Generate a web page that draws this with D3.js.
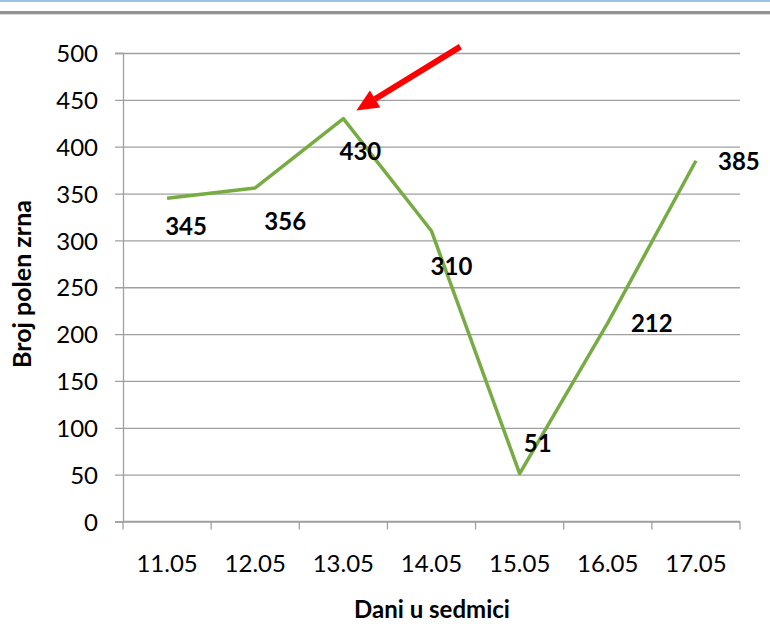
<!DOCTYPE html>
<html>
<head>
<meta charset="utf-8">
<script src="https://cdn.jsdelivr.net/npm/d3@7"></script>
<style>
  html, body { margin: 0; padding: 0; background: #fff; }
  svg { display: block; }
</style>
</head>
<body>
<div id="chart"></div>
<script>
var days = ["11.05", "12.05", "13.05", "14.05", "15.05", "16.05", "17.05"];
var counts = [345, 356, 430, 310, 51, 212, 385];
var yTicks = [0, 50, 100, 150, 200, 250, 300, 350, 400, 450, 500];
// label offsets from each point (dx, dy to baseline), as Excel left them
var labelDx = [19, 30, 17, 20, 18, 44, 43];
var labelDy = [37, 42, 41, 44, -22, 9, 9];

var width = 770, height = 639;
var plotLeft = 123, plotRight = 740, plotTop = 53, plotBottom = 521.5;
var font = "Lato, 'Open Sans', sans-serif";

var svg = d3.select("#chart").append("svg")
    .attr("width", width).attr("height", height);

// page decoration at top
svg.append("rect").attr("x", 0).attr("y", 0).attr("width", width).attr("height", 2).attr("fill", "#9dc3e6");
svg.append("rect").attr("x", 0).attr("y", 11).attr("width", width).attr("height", 3).attr("fill", "#939393");
svg.append("rect").attr("x", 0).attr("y", 14).attr("width", width).attr("height", 1).attr("fill", "#d9d9d9");

var x = d3.scaleBand().domain(days).range([plotLeft, plotRight]);
var y = d3.scaleLinear().domain([0, 500]).range([plotBottom, plotTop]);

// gridlines + y axis
var yAxis = svg.append("g")
    .attr("transform", "translate(" + plotLeft + ",0)")
    .call(d3.axisLeft(y).tickValues(yTicks).tickSize(8).tickPadding(17));
yAxis.select(".domain").attr("stroke", "#a0a0a0").attr("stroke-width", 1.3);
yAxis.selectAll(".tick line").attr("stroke", "#a0a0a0").attr("stroke-width", 1.3)
    .attr("x2", plotRight - plotLeft).attr("x1", -8);
yAxis.selectAll(".tick text").attr("font-family", font).attr("font-size", 24)
    .attr("fill", "#000").attr("dy", "0.36em").attr("x", -25);

// x axis
var xAxis = svg.append("g")
    .attr("transform", "translate(0," + plotBottom + ")")
    .call(d3.axisBottom(x).tickSize(0).tickPadding(33));
xAxis.select(".domain").remove();
xAxis.selectAll(".tick text").attr("font-family", font).attr("font-size", 24).attr("fill", "#000");
svg.append("line").attr("x1", plotLeft).attr("x2", plotRight).attr("y1", plotBottom).attr("y2", plotBottom)
    .attr("stroke", "#a0a0a0").attr("stroke-width", 1.3);
svg.selectAll(".xtick").data(days.concat(["end"])).enter().append("line")
    .attr("x1", function(d, i) { return plotLeft + i * x.bandwidth(); })
    .attr("x2", function(d, i) { return plotLeft + i * x.bandwidth(); })
    .attr("y1", plotBottom).attr("y2", plotBottom + 8)
    .attr("stroke", "#a0a0a0").attr("stroke-width", 1.3);

// series line
var line = d3.line()
    .x(function(d, i) { return x(days[i]) + x.bandwidth() / 2; })
    .y(function(d) { return y(d); });
svg.append("path").datum(counts)
    .attr("d", line)
    .attr("fill", "none")
    .attr("stroke", "#77ab43")
    .attr("stroke-width", 3.5)
    .attr("stroke-linejoin", "round");

// data labels
svg.selectAll(".lbl").data(counts).enter().append("text")
    .attr("x", function(d, i) { return x(days[i]) + x.bandwidth() / 2 + labelDx[i]; })
    .attr("y", function(d, i) { return y(d) + labelDy[i]; })
    .attr("text-anchor", "middle")
    .attr("font-family", font).attr("font-size", 24).attr("font-weight", "bold")
    .text(function(d) { return d; });

// red arrow pointing to the peak
var peakX = x(days[2]) + x.bandwidth() / 2, peakY = y(counts[2]);
var tip = [peakX + 13, peakY - 8], tail = [peakX + 117, peakY - 72];
var ang = Math.atan2(tail[1] - tip[1], tail[0] - tip[0]);
var headLen = 22, headW = 10;
var bx = tip[0] + Math.cos(ang) * headLen, by = tip[1] + Math.sin(ang) * headLen;
svg.append("line")
    .attr("x1", tail[0]).attr("y1", tail[1]).attr("x2", bx).attr("y2", by)
    .attr("stroke", "#ff0000").attr("stroke-width", 6);
svg.append("polygon")
    .attr("points", [
        tip,
        [bx - Math.sin(ang) * headW, by + Math.cos(ang) * headW],
        [bx + Math.sin(ang) * headW, by - Math.cos(ang) * headW]
    ].map(function(p) { return p.join(","); }).join(" "))
    .attr("fill", "#ff0000");

// axis titles
svg.append("text")
    .attr("x", 432).attr("y", 618)
    .attr("text-anchor", "middle")
    .attr("font-family", font).attr("font-size", 24).attr("font-weight", "bold")
    .text("Dani u sedmici");
svg.append("text")
    .attr("transform", "translate(31," + 284 + ") rotate(-90)")
    .attr("text-anchor", "middle")
    .attr("font-family", font).attr("font-size", 25).attr("font-weight", "bold")
    .text("Broj polen zrna");
</script>
</body>
</html>
